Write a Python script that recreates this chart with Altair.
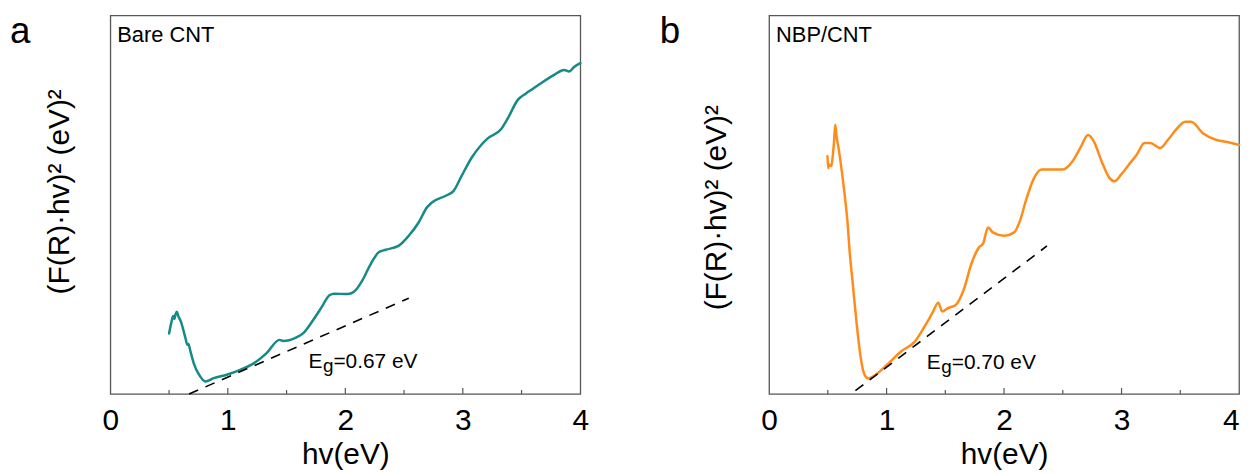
import altair as alt
import pandas as pd

# ---------------- data ----------------
# panel a : Bare CNT
a_ev = [0.50, 0.52, 0.535, 0.545, 0.555, 0.565, 0.58, 0.60, 0.64, 0.655, 0.665, 0.68,
        0.71, 0.755, 0.81, 0.88, 0.99, 1.105, 1.22, 1.33, 1.44, 1.47, 1.58, 1.64,
        1.725, 1.80, 1.865, 1.905, 2.02, 2.09, 2.145, 2.217, 2.287, 2.344, 2.456,
        2.54, 2.624, 2.695, 2.737, 2.85, 2.92, 2.99, 3.075, 3.16, 3.215, 3.327,
        3.384, 3.468, 3.538, 3.58, 3.665, 3.778, 3.862, 3.905, 3.947, 4.0]
a_val = [16.0, 19.0, 20.6, 19.8, 21.0, 21.7, 20.5, 19.2, 14.7, 13.0, 13.2, 11.5,
         8.1, 5.1, 3.3, 4.2, 5.1, 6.4, 8.1, 10.8, 14.3, 14.0, 14.9, 16.0,
         19.5, 23.0, 26.1, 26.5, 26.4, 27.5, 30.0, 34.4, 37.5, 38.1, 39.2,
         41.8, 45.3, 49.3, 50.6, 52.3, 53.6, 57.6, 62.4, 65.9, 67.6, 70.0,
         72.9, 77.7, 79.4, 80.3, 82.1, 84.3, 85.6, 85.2, 86.4, 87.4]
a_fit_ev = [0.67, 2.54]
a_fit_val = [0.0, 25.3]

# panel b : NBP/CNT
b_ev = [0.497, 0.503, 0.51, 0.53, 0.54, 0.553, 0.563, 0.573, 0.596, 0.619, 0.646,
        0.669, 0.685, 0.712, 0.745, 0.778, 0.811, 0.844, 0.894, 0.993, 1.126, 1.242,
        1.325, 1.39, 1.44, 1.474, 1.523, 1.589, 1.656, 1.722, 1.788, 1.821, 1.864,
        1.904, 2.003, 2.086, 2.136, 2.185, 2.25, 2.318, 2.4, 2.5, 2.583, 2.649,
        2.715, 2.765, 2.83, 2.897, 2.94, 2.997, 3.063, 3.129, 3.195, 3.245, 3.328,
        3.394, 3.46, 3.543, 3.593, 3.692, 3.808, 3.874, 4.0]
b_val = [62.8, 59.7, 60.6, 60.2, 62.3, 66.7, 71.1, 68.4, 64.1, 58.8, 51.9,
         44.9, 37.9, 29.2, 18.7, 10.0, 5.2, 4.1, 4.8, 7.4, 11.3, 13.9,
         17.9, 21.4, 24.1, 21.8, 22.7, 23.5, 27.5, 34.4, 38.8, 39.7, 44.0,
         42.7, 41.8, 42.7, 45.8, 51.0, 56.7, 59.3, 59.3, 59.3, 61.5, 65.0,
         68.4, 66.7, 61.5, 57.1, 56.2, 58.0, 60.6, 63.2, 66.3, 66.3, 65.0,
         67.1, 69.7, 71.9, 71.9, 68.9, 67.1, 66.7, 65.8]
b_fit_ev = [0.735, 2.365]
b_fit_val = [0.9, 39.1]

major_ticks = [1, 2, 3]
minor_ticks = [0.5, 1.5, 2.5, 3.5]
x_tick_labels = [0, 1, 2, 3, 4]

FONT = "Liberation Sans"
W, H = 473, 381


def panel(ev, val, fit_ev, fit_val, color, name, letter, letter_x, eg_label,
          eg_pos, ytitle_x, ytitle_y, last_align):
    X = alt.X("ev:Q", scale=alt.Scale(domain=[0, 4], nice=False),
              axis=alt.Axis(values=x_tick_labels, title="hv(eV)", grid=False,
                            domain=False, ticks=False, tickSize=0,
                            labelFontSize=30, labelFont=FONT, labelColor="black",
                            labelBaseline="alphabetic", labelPadding=36,
                            labelFlush=False,
                            labelAlign={"condition": {"test": "datum.value == 4",
                                                      "value": last_align},
                                        "value": "center"},
                            titleFontSize=30, titleFont=FONT,
                            titleFontWeight="normal", titleColor="black",
                            titleBaseline="alphabetic", titleY=70))
    Y = alt.Y("val:Q", scale=alt.Scale(domain=[0, 100], nice=False),
              axis=alt.Axis(labels=False, ticks=False, domain=False, grid=False,
                            title="(F(R)·hv)² (eV)²", titleFontSize=30,
                            titleFont=FONT, titleFontWeight="normal",
                            titleColor="black", titleBaseline="alphabetic",
                            titleX=ytitle_x, titleY=ytitle_y))

    curve = alt.Chart(pd.DataFrame({"ev": ev, "val": val})).mark_line(
        color=color, strokeWidth=2.5, interpolate="monotone", strokeCap="round"
    ).encode(x=X, y=Y)

    fit = alt.Chart(pd.DataFrame({"ev": fit_ev, "val": fit_val})).mark_line(
        color="black", strokeWidth=1.6, strokeDash=[10, 8]
    ).encode(x=X, y=Y)

    tmaj = alt.Chart(pd.DataFrame({"ev": major_ticks})).mark_rule(
        color="#555555", strokeWidth=1.2
    ).encode(x=X, y=alt.value(H), y2=alt.value(H - 6))
    tmin = alt.Chart(pd.DataFrame({"ev": minor_ticks})).mark_rule(
        color="#555555", strokeWidth=1.2
    ).encode(x=X, y=alt.value(H), y2=alt.value(H - 4))

    eg_df = pd.DataFrame({"ev": [eg_pos[0]], "val": [eg_pos[1]]})
    eg_e = alt.Chart(eg_df).mark_text(
        align="left", baseline="alphabetic", fontSize=21, font=FONT, color="black"
    ).encode(x=X, y=Y, text=alt.value("E"))
    eg_g = alt.Chart(eg_df).mark_text(
        align="left", baseline="alphabetic", fontSize=19, font=FONT, color="black",
        dx=14.5, dy=4
    ).encode(x=X, y=Y, text=alt.value("g"))
    eg_r = alt.Chart(eg_df).mark_text(
        align="left", baseline="alphabetic", fontSize=21, font=FONT, color="black",
        dx=25
    ).encode(x=X, y=Y, text=alt.value(eg_label))

    name_t = alt.Chart(pd.DataFrame({"t": [name]})).mark_text(
        align="left", baseline="alphabetic", fontSize=22, font=FONT, color="black"
    ).encode(x=alt.value(7), y=alt.value(27), text="t:N")
    letter_t = alt.Chart(pd.DataFrame({"t": [letter]})).mark_text(
        align="left", baseline="alphabetic", fontSize=37, font=FONT, color="black"
    ).encode(x=alt.value(letter_x), y=alt.value(28), text="t:N")

    return alt.layer(curve, fit, tmaj, tmin, eg_e, eg_g, eg_r, name_t, letter_t
                     ).properties(width=W, height=H)


pa = panel(a_ev, a_val, a_fit_ev, a_fit_val, "#168a87", "Bare CNT", "a", -101,
           "=0.67 eV", (1.687, 6.8), -42, 177, "center")
pb = panel(b_ev, b_val, b_fit_ev, b_fit_val, "#ff8c1a", "NBP/CNT", "b", -110,
           "=0.70 eV", (1.343, 6.6), -44, 193, "right")

chart = alt.hconcat(pa, pb, spacing=70).properties(
    padding={"left": 1, "top": 3, "right": 0, "bottom": 0}
).configure_view(stroke="#555555", strokeWidth=1.3)

chart.save("out.html", embed_options={"renderer": "svg", "actions": False})
